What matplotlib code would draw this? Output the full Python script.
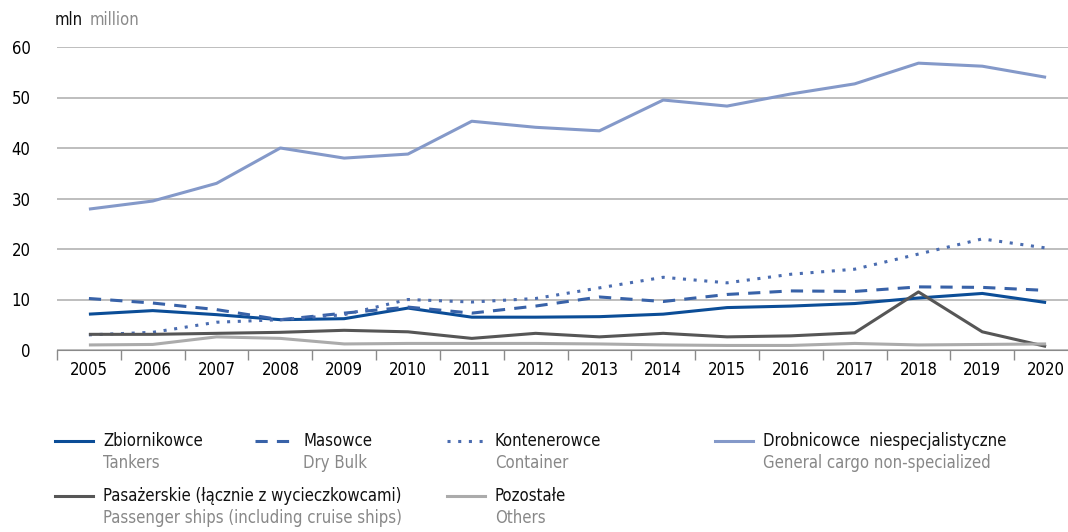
import matplotlib.pyplot as plt
from matplotlib.lines import Line2D

plt.rcParams['font.family'] = ['DejaVu Sans']
plt.rcParams['font.stretch'] = 'condensed'

# data (mln)
years = [str(y) for y in range(2005, 2021)]
tankers = [7.1, 7.8, 7.0, 6.0, 6.2, 8.3, 6.5, 6.5, 6.6, 7.1, 8.4, 8.7, 9.2, 10.3, 11.2, 9.4]
dry_bulk = [10.2, 9.3, 8.0, 6.0, 7.3, 8.5, 7.3, 8.7, 10.5, 9.6, 11.0, 11.7, 11.6, 12.5, 12.4, 11.8]
container = [3.0, 3.5, 5.5, 6.0, 7.0, 10.0, 9.5, 10.2, 12.3, 14.4, 13.3, 15.0, 16.0, 19.0, 22.0, 20.2]
general_cargo = [27.9, 29.5, 33.0, 40.0, 38.0, 38.8, 45.3, 44.1, 43.4, 49.5, 48.3, 50.7, 52.7, 56.8, 56.2, 54.0]
passenger = [3.1, 3.1, 3.3, 3.5, 3.9, 3.6, 2.3, 3.3, 2.6, 3.3, 2.6, 2.8, 3.4, 11.5, 3.6, 0.7]
others = [1.0, 1.1, 2.6, 2.3, 1.2, 1.3, 1.3, 1.3, 1.2, 1.0, 0.9, 0.9, 1.3, 1.0, 1.1, 1.2]

series = [
    ('Zbiornikowce', 'Tankers', tankers, '#0b4d97', '-'),
    ('Masowce', 'Dry Bulk', dry_bulk, '#3862a8', (0, (4, 3))),
    ('Kontenerowce', 'Container', container, '#4a6cb0', (0, (1, 2.5))),
    ('Drobnicowce  niespecjalistyczne', 'General cargo non-specialized', general_cargo, '#8499c9', '-'),
    ('Pasażerskie (łącznie z wycieczkowcami)', 'Passenger ships (including cruise ships)', passenger, '#565656', '-'),
    ('Pozostałe', 'Others', others, '#ababab', '-'),
]

W, H = 1068, 532
fig = plt.figure(figsize=(W / 100, H / 100), dpi=100)
x0, x1 = 57, 1078
y0, y1 = 350, 47
ax = fig.add_axes([x0 / W, 1 - y0 / H, (x1 - x0) / W, (y0 - y1) / H])

x = range(len(years))
for pl, en, vals, col, ls in series:
    ax.plot(x, vals, color=col, linestyle=ls, linewidth=2.2, solid_capstyle='butt', zorder=3)

ax.set_xlim(-0.5, len(years) - 0.5)
ax.set_ylim(0, 60)
ax.set_yticks(range(0, 61, 10))
ax.set_xticks(x)
ax.set_xticklabels(years)
ax.set_xticks([i - 0.5 for i in range(len(years) + 1)], minor=True)
ax.tick_params(axis='x', which='major', length=0, pad=8, labelsize=12)
ax.tick_params(axis='x', which='minor', length=7, color='#8a8a8a', width=1)
ax.tick_params(axis='y', length=0, pad=19, labelsize=12)
ax.grid(axis='y', color='#b3b3b3', linewidth=1.2, zorder=1)
for s in ['top', 'right', 'left']:
    ax.spines[s].set_visible(False)
ax.spines['bottom'].set_color('#8a8a8a')
ax.set_axisbelow(True)

fig.text(55 / W, 1 - 20 / H, 'mln', fontsize=12, va='center', ha='left', color='#111111')
fig.text(90 / W, 1 - 20 / H, 'million', fontsize=12, va='center', ha='left', color='#8a8a8a')

# legend
slots = [(55, 441), (255, 441), (447, 441), (715, 441), (55, 496), (447, 496)]
for (pl, en, vals, col, ls), (cx, ry) in zip(series, slots):
    fig.add_artist(Line2D([cx / W, (cx + 38) / W], [1 - ry / H, 1 - ry / H],
                          color=col, linestyle=ls, linewidth=2.2, transform=fig.transFigure))
    fig.text((cx + 48) / W, 1 - ry / H, pl, fontsize=12, va='center', ha='left', color='#111111')
    fig.text((cx + 48) / W, 1 - (ry + 22) / H, en, fontsize=12, va='center', ha='left', color='#888888')

fig.savefig('out.png', dpi=100)
